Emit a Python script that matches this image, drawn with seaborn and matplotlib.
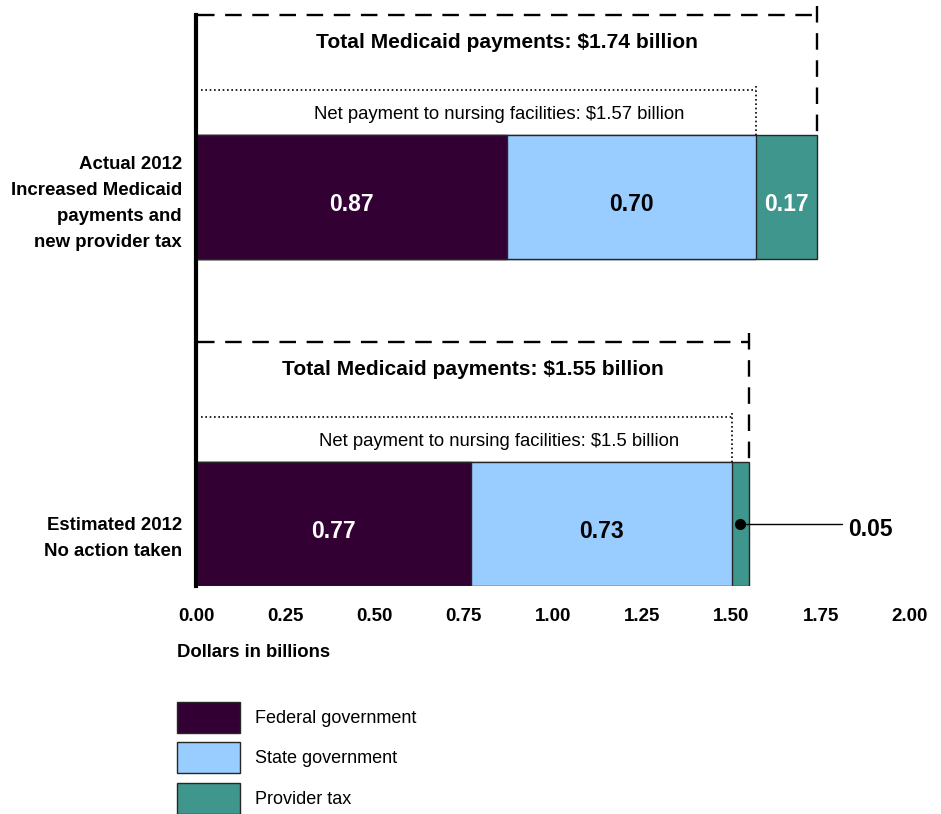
import matplotlib
matplotlib.use("Agg")
import matplotlib.pyplot as plt
import matplotlib.transforms as mtrans
from matplotlib.patches import Patch
from matplotlib import font_manager as fm
import pandas as pd
import seaborn as sns

# ---- data -------------------------------------------------------------
scenarios = [
    "Actual 2012\nIncreased Medicaid\npayments and\nnew provider tax",
    "Estimated 2012\nNo action taken",
]
sources = ["Federal government", "State government", "Provider tax"]
federal = [0.87, 0.77]
state = [0.70, 0.73]
provider = [0.17, 0.05]
total_payments = [1.74, 1.55]
net_payments = [1.57, 1.5]
x_ticks = [0.00, 0.25, 0.50, 0.75, 1.00, 1.25, 1.50, 1.75, 2.00]

# ---- styling ----------------------------------------------------------
colors = {"Federal government": "#330033",
          "State government": "#99CCFF",
          "Provider tax": "#3F968C"}
label_colors = {"Federal government": "white",
                "State government": "black",
                "Provider tax": "white"}
edge = "#262626"

sns.set_theme(style="white")
plt.rcParams["font.family"] = ["Liberation Sans", "DejaVu Sans"]
plt.rcParams.update({"text.color": "black", "axes.labelcolor": "black",
                     "xtick.color": "black", "ytick.color": "black"})
installed = {f.name for f in fm.fontManager.ttflist}
narrow = "Liberation Sans Narrow" if "Liberation Sans Narrow" in installed else "Liberation Sans"
narrow_scale = 1.0 if narrow == "Liberation Sans Narrow" else 0.82

df = pd.DataFrame({"scenario": scenarios, "Federal government": federal,
                   "State government": state, "Provider tax": provider})
df["cum_fed"] = df["Federal government"]
df["cum_state"] = df["cum_fed"] + df["State government"]
df["cum_all"] = df["cum_state"] + df["Provider tax"]

fig = plt.figure(figsize=(9.41, 8.14), dpi=100)
ax = fig.add_axes([196 / 941, 1 - 586 / 814, 714 / 941, 571 / 814])

bar_h = 0.38
# stacked bars: draw cumulative totals back to front
for col, src in [("cum_all", "Provider tax"), ("cum_state", "State government"),
                 ("cum_fed", "Federal government")]:
    sns.barplot(data=df, x=col, y="scenario", orient="h", color=colors[src],
                width=bar_h, edgecolor=edge, linewidth=1, errorbar=None,
                saturation=1, ax=ax)

ax.set_xlim(0, 2)
ax.set_ylim(1.19, -0.557)

# segment value labels
for i in range(len(scenarios)):
    left = 0.0
    for src in sources:
        v = df.loc[i, src]
        centre = left + v / 2
        if v >= 0.1:
            ax.text(centre, i + 0.022, f"{v:.2f}", ha="center", va="center",
                    color=label_colors[src], fontsize=16.5, fontweight="bold")
        else:
            ax.plot([centre, 1.81], [i, i], color="black", lw=1, clip_on=False)
            ax.plot(centre, i, "o", color="black", ms=7, clip_on=False)
            ax.text(1.826, i + 0.018, f"{v:.2f}", ha="left", va="center",
                    color="black", fontsize=16.5, fontweight="bold")
        left += v

# total / net payment brackets
dash = (0, (7, 4.5))
dot = (0, (1, 1.6))
for i in range(len(scenarios)):
    tot = total_payments[i]
    net = net_payments[i]
    ax.plot([0.005, tot], [i - 0.557, i - 0.557], color="black", lw=1.7,
            ls=dash, clip_on=False)
    ax.plot([tot, tot], [i - 0.585, i - bar_h / 2], color="black", lw=1.7,
            ls=dash, clip_on=False)
    ax.plot([0.015, net], [i - 0.327, i - 0.327], color="black", lw=1.2,
            ls=dot, clip_on=False)
    ax.plot([net, net], [i - 0.34, i - bar_h / 2], color="black", lw=1.2,
            ls=dot, clip_on=False)
    ax.text(tot / 2, i - 0.473, f"Total Medicaid payments: ${tot:g} billion",
            ha="center", va="center", fontsize=18.5 * narrow_scale,
            fontweight="bold", family=narrow)
    ax.text(0.85, i - 0.252, f"Net payment to nursing facilities: ${net:g} billion",
            ha="center", va="center", fontsize=16.3 * narrow_scale, family=narrow)

# axes and ticks
ax.set_xticks(x_ticks)
ax.set_xticklabels([f"{t:.2f}" for t in x_ticks], fontsize=16.5 * narrow_scale,
                   fontweight="bold", family=narrow)
ax.tick_params(axis="x", length=0, pad=16)
ax.tick_params(axis="y", length=0, pad=10)
for lab, dy in zip(ax.get_yticklabels(), [0, 8]):
    lab.set_fontweight("bold")
    lab.set_fontsize(13.4)
    lab.set_linespacing(1.69)
    lab.set_color("black")
    lab.set_transform(lab.get_transform()
                      + mtrans.ScaledTranslation(0, -dy / 100, fig.dpi_scale_trans))
ax.set_ylabel("")
ax.set_xlabel("Dollars in billions", fontsize=16.3 * narrow_scale,
              fontweight="bold", family=narrow, ha="left", va="center")
ax.xaxis.set_label_coords(-0.0266, -0.1156)

for s in ["top", "right", "bottom"]:
    ax.spines[s].set_visible(False)
ax.spines["left"].set_color("black")
ax.spines["left"].set_linewidth(3)
ax.grid(False)

handles = [Patch(facecolor=colors[s], edgecolor=edge, linewidth=1) for s in sources]
fig.legend(handles, sources, loc="upper left",
           bbox_to_anchor=(177 / 941, 1 - 702 / 814), frameon=False,
           borderpad=0, borderaxespad=0, fontsize=13,
           handlelength=3.49, handleheight=2.26, labelspacing=0.52,
           handletextpad=0.83)

fig.savefig("out.png", dpi=100, facecolor="white")
